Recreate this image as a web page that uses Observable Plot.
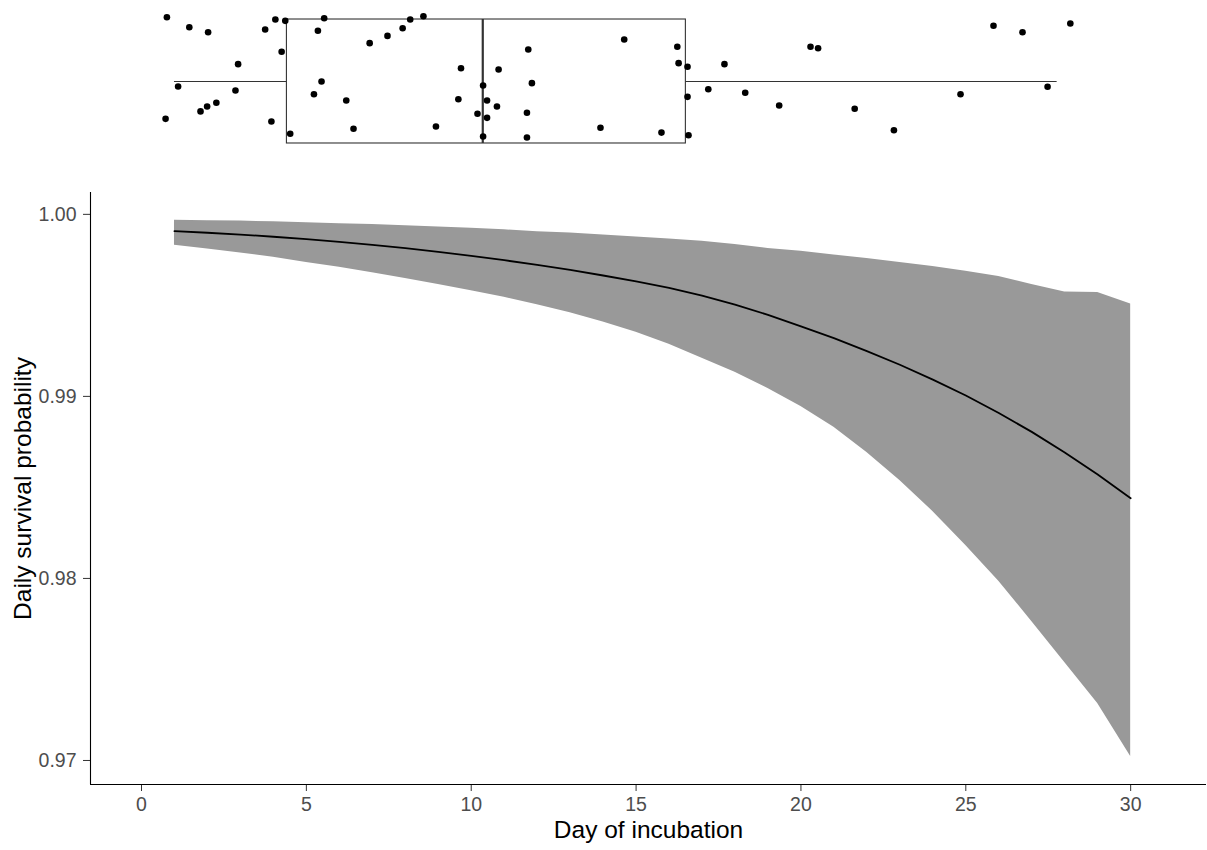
<!DOCTYPE html>
<html>
<head>
<meta charset="utf-8">
<script src="https://cdn.jsdelivr.net/npm/d3@7"></script>
<script src="https://cdn.jsdelivr.net/npm/@observablehq/plot@0.6"></script>
<style>
  html, body { margin: 0; padding: 0; background: #ffffff; }
  #chart svg { display: block; }
</style>
</head>
<body>
<div id="chart"></div>
<script>
// ---- Data ----
const days = [1,2,3,4,5,6,7,8,9,10,11,12,13,14,15,16,17,18,19,20,21,22,23,24,25,26,27,28,29,30];
const dsr = [0.99908,0.99899,0.99889,0.99877,0.99864,0.99849,0.99832,0.99814,0.99794,0.99772,
             0.99748,0.99723,0.99695,0.99664,0.99632,0.99596,0.99553,0.99504,0.99448,0.99385,
             0.99320,0.99249,0.99174,0.99092,0.99005,0.98909,0.98805,0.98692,0.98571,0.98440];
const lower = [0.99830,0.99810,0.99788,0.99764,0.99736,0.99709,0.99679,0.99648,0.99615,0.99580,
               0.99544,0.99503,0.99459,0.99409,0.99352,0.99286,0.99209,0.99132,0.99044,0.98945,
               0.98830,0.98692,0.98538,0.98368,0.98181,0.97984,0.97764,0.97538,0.97313,0.97022];
const upper = [0.99967,0.99965,0.99963,0.99959,0.99954,0.99949,0.99944,0.99938,0.99931,0.99923,
               0.99915,0.99905,0.99897,0.99887,0.99876,0.99864,0.99852,0.99835,0.99813,0.99797,
               0.99777,0.99758,0.99736,0.99714,0.99687,0.99659,0.99615,0.99574,0.99571,0.99508];

// jittered observations shown in the marginal boxplot
const obsDay = [0.77,1.45,2.02,0.73,1.11,1.79,1.99,2.27,2.85,2.93,
                3.75,4.06,4.36,4.25,3.94,4.51,5.35,5.54,5.46,5.23,
                6.21,6.43,6.92,7.46,7.92,8.15,8.55,8.93,9.69,9.61,
                10.19,10.36,10.48,10.48,10.36,10.78,10.83,11.73,11.84,11.69,
                11.69,13.92,14.64,16.25,16.29,16.56,16.56,15.77,16.59,17.68,
                17.19,18.31,19.34,20.29,20.52,21.63,22.82,24.84,25.84,26.72,
                27.48,28.17];
const obsJitter = [0.389,0.328,0.298,-0.226,-0.030,-0.181,-0.151,-0.129,-0.054,0.105,
                   0.315,0.375,0.367,0.180,-0.242,-0.316,0.307,0.383,0.000,-0.077,
                   -0.115,-0.286,0.232,0.276,0.322,0.375,0.395,-0.272,0.080,-0.107,
                   -0.195,-0.024,-0.115,-0.220,-0.333,-0.151,0.073,0.194,-0.010,-0.189,
                   -0.339,-0.280,0.254,0.210,0.111,0.089,-0.093,-0.309,-0.325,0.105,
                   -0.047,-0.068,-0.145,0.210,0.201,-0.165,-0.295,-0.077,0.337,0.298,
                   -0.032,0.351];

// boxplot summary
const boxStatNames = ["whiskerLow","q1","median","q3","whiskerHigh"];
const boxStatValues = [1.0, 4.41, 10.35, 16.51, 27.77];

// axis ticks and labels
const xTicks = [0,5,10,15,20,25,30];
const yTicks = [0.97,0.98,0.99,1.00];
const xLabel = "Day of incubation";
const yLabel = "Daily survival probability";

// ---- Build tables ----
const curve = days.map((d, i) => ({day: d, dsr: dsr[i], lower: lower[i], upper: upper[i]}));
const obs = obsDay.map((d, i) => ({day: d, j: obsJitter[i]}));
const bs = Object.fromEntries(boxStatNames.map((n, i) => [n, boxStatValues[i]]));

const W = 1207;
const xDomain = [-1.547, 32.30];
const font = "'Liberation Sans', Arial, Helvetica, sans-serif";
const boxCol = "#333333";

const topPlot = Plot.plot({
  width: W, height: 162,
  marginTop: 0, marginBottom: 0, marginLeft: 90, marginRight: 1,
  x: {domain: xDomain, axis: null},
  y: {domain: [-0.49, 0.49], axis: null},
  style: {fontFamily: font, background: "#ffffff"},
  marks: [
    Plot.ruleY([0], {x1: bs.whiskerLow, x2: bs.q1, stroke: boxCol, strokeWidth: 1.1}),
    Plot.ruleY([0], {x1: bs.q3, x2: bs.whiskerHigh, stroke: boxCol, strokeWidth: 1.1}),
    Plot.rect([bs], {x1: "q1", x2: "q3", y1: -0.375, y2: 0.375, fill: "none", stroke: boxCol, strokeWidth: 1.1}),
    Plot.ruleX([bs.median], {y1: -0.375, y2: 0.375, stroke: boxCol, strokeWidth: 2.2}),
    Plot.dot(obs, {x: "day", y: "j", r: 3.3, fill: "#000000", stroke: "none"})
  ]
});

const mainPlot = Plot.plot({
  width: W, height: 688,
  marginTop: 30, marginBottom: 66, marginLeft: 90, marginRight: 1,
  x: {domain: xDomain},
  y: {domain: [0.96868, 1.0012]},
  style: {fontFamily: font, background: "#ffffff"},
  marks: [
    Plot.areaY(curve, {x: "day", y1: "lower", y2: "upper", fill: "#999999"}),
    Plot.lineY(curve, {x: "day", y: "dsr", stroke: "#000000", strokeWidth: 1.8}),
    Plot.axisX({ticks: xTicks, tickSize: 7, tickPadding: 6, fontSize: 19.5, stroke: boxCol, fill: "#4d4d4d", label: null, tickFormat: d3.format("d")}),
    Plot.axisY({ticks: yTicks, tickSize: 7, tickPadding: 7, fontSize: 19.5, stroke: boxCol, fill: "#4d4d4d", label: null, tickFormat: d3.format(".2f")}),
    Plot.ruleY([0.96868], {stroke: "#000000", strokeWidth: 1.1}),
    Plot.ruleX([xDomain[0]], {stroke: "#000000", strokeWidth: 1.1}),
    Plot.text([xLabel], {text: d => d, frameAnchor: "bottom", dy: 53, fontSize: 24.5, fill: "#000000"}),
    Plot.text([yLabel], {text: d => d, frameAnchor: "left", textAnchor: "middle", dx: -67, rotate: -90, fontSize: 24.5, fill: "#000000"})
  ]
});

const chart = document.getElementById("chart");
chart.appendChild(topPlot);
chart.appendChild(mainPlot);
</script>
</body>
</html>
